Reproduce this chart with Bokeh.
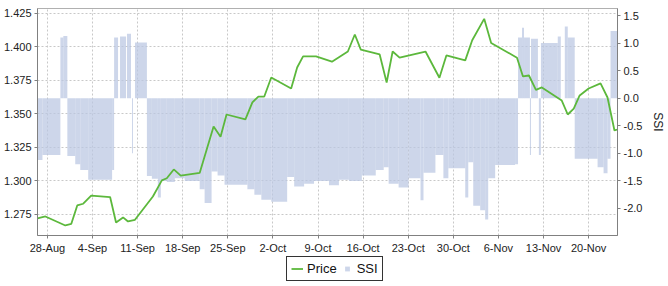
from datetime import datetime, timedelta
from bokeh.plotting import figure
from bokeh.layouts import column
from bokeh.models import (Range1d, LinearAxis, FixedTicker, NumeralTickFormatter,
                          CustomJSTickFormatter, Legend, LegendItem, ColumnDataSource)
from bokeh.embed import file_html
from bokeh.resources import INLINE

# ---------------- data (day offsets from 28-Aug) ----------------
base = datetime(2006, 8, 28)

price_day = [-1.54, -0.31, 2.78, 3.71, 4.63, 5.56, 6.79, 9.73, 10.65, 11.74, 12.51, 13.59,
             16.37, 17.76, 18.53, 19.61, 20.69, 23.63, 25.79, 26.87, 27.80, 30.73, 31.81,
             32.74, 33.66, 34.74, 37.83, 38.76, 39.68, 41.69, 44.16, 46.63, 47.71, 48.64,
             51.57, 52.65, 53.58, 54.66, 58.68, 60.84, 61.92, 64.85, 65.93, 67.79, 68.87,
             72.88, 73.81, 74.74, 75.82, 76.74, 79.83, 80.76, 81.69, 82.61, 84.00, 85.85,
             86.93, 88.01, 88.48]
price = [1.2720, 1.2735, 1.2668, 1.2680, 1.2817, 1.2830, 1.2890, 1.2880, 1.2690, 1.2728,
         1.2698, 1.2710, 1.2884, 1.3004, 1.3020, 1.3086, 1.3040, 1.3060, 1.3407, 1.3330,
         1.3496, 1.3459, 1.3586, 1.3630, 1.3630, 1.3772, 1.3690, 1.3847, 1.3930, 1.3930,
         1.3890, 1.3966, 1.4093, 1.3980, 1.3944, 1.3735, 1.3966, 1.3920, 1.3966, 1.3770,
         1.3937, 1.3900, 1.4050, 1.4210, 1.4030, 1.3920, 1.3780, 1.3787, 1.3680, 1.3698,
         1.3600, 1.3496, 1.3540, 1.3638, 1.3690, 1.3728, 1.3623, 1.3377, 1.3384]

ssi_from = [-1.54, -0.77, 2.01, 2.47, 3.09, 4.32, 5.10, 6.33, 10.04, 10.35, 11.27, 12.35,
            13.13, 13.59, 15.44, 16.21, 17.14, 17.60, 18.53, 19.77, 21.31, 23.63, 24.40,
            25.48, 26.41, 27.49, 31.04, 32.12, 33.20, 34.74, 37.21, 38.30, 39.84, 41.38,
            43.70, 45.24, 46.79, 48.80, 50.96, 52.19, 52.96, 54.51, 56.05, 57.91, 58.37,
            60.22, 61.46, 62.23, 64.85, 65.32, 66.09, 67.17, 67.94, 68.41, 69.49, 72.58,
            73.04, 73.66, 73.97, 74.89, 75.05, 76.28, 76.59, 79.21, 80.30, 80.76, 81.84,
            85.39, 86.32, 86.93, 87.40]
ssi_to = [-0.77, 2.01, 2.47, 3.09, 4.32, 5.10, 6.33, 10.04, 10.35, 10.96, 12.20, 12.97,
          13.28, 15.44, 16.21, 17.14, 17.60, 18.53, 19.77, 21.31, 23.63, 24.40, 25.48,
          26.41, 27.49, 31.04, 32.12, 33.20, 34.74, 37.21, 38.30, 39.84, 41.38, 43.70,
          45.24, 46.79, 48.80, 50.96, 52.19, 52.96, 54.51, 56.05, 57.91, 58.37, 60.22,
          61.46, 62.23, 64.85, 65.32, 66.09, 67.17, 67.94, 68.41, 69.49, 72.58, 73.04,
          73.66, 73.97, 74.89, 75.05, 76.13, 76.59, 79.21, 79.68, 80.76, 81.84, 85.39,
          86.32, 86.93, 87.40, 88.48]
ssi_val = [-1.12, -1.03, 1.10, 1.13, -1.05, -1.20, -1.30, -1.48, -1.30, 1.10, 1.12, 1.17,
           -1.00, 1.01, -1.41, -1.46, -1.80, -1.50, -1.52, -1.45, -1.50, -1.65, -1.90,
           -1.33, -1.40, -1.57, -1.65, -1.75, -1.84, -1.88, -1.43, -1.60, -1.55, -1.50,
           -1.58, -1.48, -1.50, -1.40, -1.30, -1.25, -1.55, -1.62, -1.45, -1.85, -1.35,
           -1.03, -1.45, -1.27, -1.80, -1.16, -1.95, -2.03, -2.20, -1.45, -1.21, -1.20,
           1.10, 1.28, 1.10, -1.03, 1.08, -1.03, 1.00, 1.12, 1.30, 1.10, -1.10,
           -1.25, -1.36, -1.10, 1.22]

week_ticks = ["28-Aug", "4-Sep", "11-Sep", "18-Sep", "25-Sep", "2-Oct", "9-Oct",
              "16-Oct", "23-Oct", "30-Oct", "6-Nov", "13-Nov", "20-Nov"]
price_ticks = [1.275, 1.300, 1.325, 1.350, 1.375, 1.400, 1.425]
ssi_ticks = [-2.0, -1.5, -1.0, -0.5, 0.0, 0.5, 1.0, 1.5]
series_names = ["Price", "SSI"]


def to_dt(d):
    return base + timedelta(days=d)


price_src = ColumnDataSource(dict(x=[to_dt(d) for d in price_day], y=price))
ssi_src = ColumnDataSource(dict(
    left=[to_dt(d) for d in ssi_from],
    right=[to_dt(d) for d in ssi_to],
    top=[max(v, 0) for v in ssi_val],
    bottom=[min(v, 0) for v in ssi_val],
))

x_start = to_dt(price_day[0])
x_end = to_dt(price_day[-1])

TICK_FONT = "Liberation Sans"
GRAY = "#808080"
SSI_FILL = "#bac6e2"
PRICE_COLOR = "#5cb83c"

p = figure(width=668, height=256, x_axis_type="datetime",
           x_range=Range1d(x_start, x_end), y_range=Range1d(1.2593, 1.4287),
           output_backend="svg", toolbar_location=None,
           min_border_left=37, min_border_right=48, min_border_top=8,
           min_border_bottom=21, background_fill_color="white",
           border_fill_color="white")
p.extra_y_ranges = {"ssi": Range1d(-2.49, 1.627)}

# SSI area (as contiguous step blocks)
p.quad(left="left", right="right", top="top", bottom="bottom", source=ssi_src,
       y_range_name="ssi", fill_color=SSI_FILL, fill_alpha=0.72, line_color=None)

p.line("x", "y", source=price_src, line_color=PRICE_COLOR, line_width=1.8)

# axes
tick_ms = [(base + timedelta(days=7 * i) - datetime(1970, 1, 1)).total_seconds() * 1000
           for i in range(len(week_ticks))]
p.xaxis.ticker = FixedTicker(ticks=tick_ms)
p.xaxis.formatter = CustomJSTickFormatter(args=dict(lbls=week_ticks, tvals=tick_ms), code="""
    let best = 0;
    for (let k = 0; k < tvals.length; k++) {
        if (Math.abs(tvals[k] - tick) < Math.abs(tvals[best] - tick)) { best = k; }
    }
    return lbls[best];
""")
p.yaxis.ticker = FixedTicker(ticks=price_ticks)
p.yaxis.formatter = NumeralTickFormatter(format="0.000")

right = LinearAxis(y_range_name="ssi", axis_label="SSI",
                   ticker=FixedTicker(ticks=ssi_ticks),
                   formatter=NumeralTickFormatter(format="0.0"))
p.add_layout(right, "right")

for ax in [p.xaxis[0], p.yaxis[0], right]:
    ax.axis_line_color = GRAY
    ax.major_tick_line_color = GRAY
    ax.minor_tick_line_color = None
    ax.major_tick_out = 3
    ax.major_tick_in = 0
    ax.major_label_text_font = TICK_FONT
    ax.major_label_text_font_size = "11px"
    ax.major_label_text_color = "#222222"
    ax.major_label_standoff = 3

right.axis_label_text_font = TICK_FONT
right.axis_label_text_font_size = "12px"
right.axis_label_text_font_style = "normal"
right.axis_label_text_color = "#222222"
right.axis_label_standoff = 6

p.outline_line_color = "#b0b0b0"

for g in [p.xgrid[0], p.ygrid[0]]:
    g.grid_line_color = "#c8c8c8"
    g.grid_line_dash = "2 2"
    g.grid_line_width = 1

# ---------------- legend strip under the chart ----------------
lg = figure(width=668, height=30, x_range=Range1d(0, 1), y_range=Range1d(0, 1),
            output_backend="svg", toolbar_location=None,
            x_axis_location=None, y_axis_location=None,
            min_border_left=37, min_border_right=48, min_border_top=0, min_border_bottom=0,
            outline_line_color=None, background_fill_color="white",
            border_fill_color="white")
lg.xgrid.visible = False
lg.ygrid.visible = False
key_line = lg.line(x=[-5, -4], y=[-5, -5], line_color=PRICE_COLOR, line_width=1.8)
key_sq = lg.scatter(x=[-5], y=[-5], marker="square", size=6, fill_color=SSI_FILL,
                    fill_alpha=0.72, line_color=None)

legend = Legend(items=[LegendItem(label=series_names[0], renderers=[key_line]),
                       LegendItem(label=series_names[1], renderers=[key_sq])],
                orientation="horizontal", location=(249, 5),
                border_line_color="#333333", border_line_width=1, border_line_alpha=1,
                label_text_font=TICK_FONT, label_text_font_size="13px",
                label_text_color="#111111",
                glyph_width=12, glyph_height=13, spacing=4, padding=4, margin=0,
                label_standoff=4, background_fill_color="white", background_fill_alpha=1)
lg.add_layout(legend, "center")

page = column(p, lg, spacing=0)
open("out.html", "w").write(file_html(page, INLINE))
